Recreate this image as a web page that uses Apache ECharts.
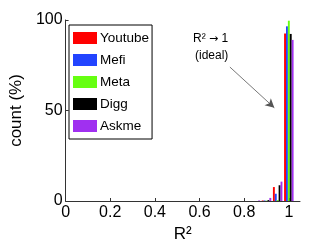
<!DOCTYPE html>
<html><head><meta charset="utf-8">
<script src="https://cdn.jsdelivr.net/npm/echarts@6/dist/echarts.min.js"></script>
<style>html,body{margin:0;padding:0;background:#fff}#c{width:332px;height:250px}</style>
</head><body><div id="c"></div>
<script>
var bins = [0.85, 0.9, 0.95, 1.0];
var seriesNames = ['Youtube', 'Mefi', 'Meta', 'Digg', 'Askme'];
var youtube = [0, 0.3, 7.7, 92.6];
var mefi = [0, 0.3, 4.0, 96.5];
var meta = [0, 0.2, 0.5, 99.6];
var digg = [0, 0.5, 8.7, 92.3];
var askme = [0.3, 1.7, 10.7, 89.0];
var xTicks = [0, 0.2, 0.4, 0.6, 0.8, 1];
var yTicks = [0, 50, 100];
var colors = ['#ff0000', '#2244ff', '#66ff11', '#000000', '#a030f0'];
var values = [youtube, mefi, meta, digg, askme];

var font = 'Liberation Sans, Arial, sans-serif';
var chart = echarts.init(document.getElementById('c'));
var series = seriesNames.map(function (n, i) {
  return {
    name: n, type: 'bar', barWidth: 1.9, barGap: '0%',
    itemStyle: { color: colors[i] },
    data: bins.map(function (b, j) { return [b, values[i][j]]; })
  };
});
series[0].markLine = {
  silent: true, symbol: ['none', 'arrow'], symbolSize: [7, 9],
  lineStyle: { color: '#555', width: 0.8, type: 'solid' },
  label: { show: false },
  data: [[{ coord: [0.753, 74] }, { coord: [0.952, 51.5] }]]
};
chart.setOption({
  animation: false,
  color: colors,
  grid: { left: 62, right: 32, top: 20, bottom: 49 },
  legend: {
    orient: 'vertical', left: 69, top: 25,
    itemWidth: 24, itemHeight: 12, itemGap: 8,
    padding: [6, 3, 6, 4],
    borderColor: '#000', borderWidth: 1,
    icon: 'rect',
    textStyle: { fontFamily: font, fontSize: 13.5, color: '#000', padding: [0, 0, 0, -2] },
    data: seriesNames
  },
  xAxis: {
    type: 'value', min: 0, max: 1.05,
    name: 'R\u00b2', nameLocation: 'middle', nameGap: 23,
    nameTextStyle: { fontFamily: font, fontSize: 17, color: '#000' },
    axisLine: { show: true, lineStyle: { color: '#333', width: 1 } },
    axisTick: { show: true, inside: true, length: 3, customValues: xTicks, lineStyle: { color: '#333' } },
    axisLabel: { customValues: xTicks, fontFamily: font, fontSize: 16, color: '#000', margin: 4 },
    splitLine: { show: false }
  },
  yAxis: {
    type: 'value', min: 0, max: 100, interval: 50,
    name: 'count (%)', nameLocation: 'middle', nameGap: 38, nameRotate: 90,
    nameTextStyle: { fontFamily: font, fontSize: 17, color: '#000' },
    axisLine: { show: true, lineStyle: { color: '#333', width: 1 } },
    axisTick: { show: true, inside: true, length: 3, lineStyle: { color: '#333' } },
    axisLabel: { fontFamily: font, fontSize: 16, color: '#000', margin: 3 },
    splitLine: { show: false }
  },
  graphic: [
    { type: 'text', left: 193, top: 33, style: { text: 'R\u00b2 {a|\u2192} 1', font: '12px ' + font, fill: '#000',
      rich: { a: { fontFamily: 'DejaVu Sans', fontSize: 11, fill: '#000' } } } },
    { type: 'text', left: 195, top: 50, style: { text: '(ideal)', font: '12px ' + font, fill: '#000' } }
  ],
  series: series
});
</script></body></html>
